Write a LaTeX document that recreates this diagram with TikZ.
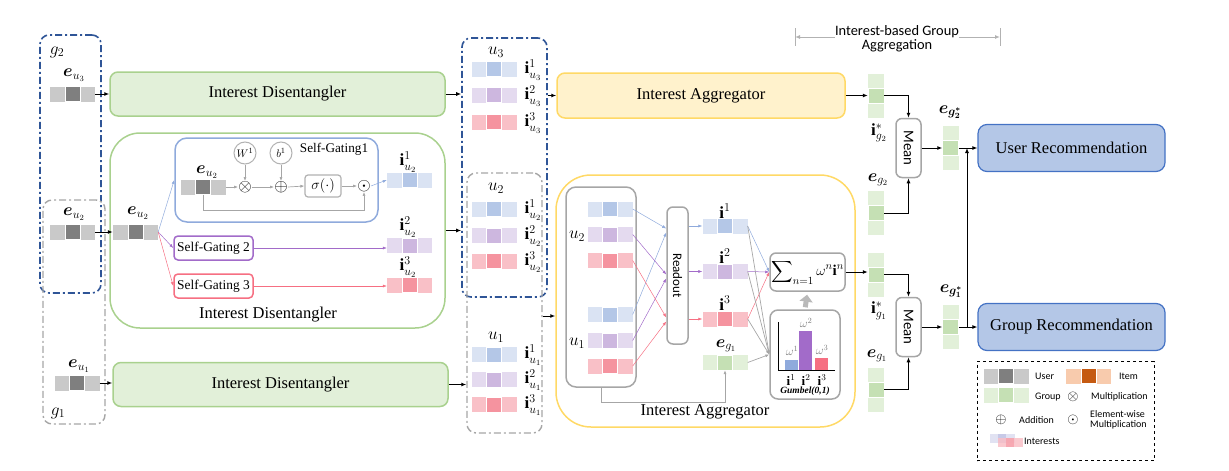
\documentclass[tikz,border=0pt]{standalone}
\usepackage{fontspec}
\setmainfont{Liberation Serif}
\newfontfamily\calib{Carlito}
\usepackage{amsmath,amssymb,bm}
\usetikzlibrary{shapes, arrows.meta, positioning}

\newcommand\fsz[1]{\fontsize{#1}{#1}\selectfont}
\definecolor{idfill}{HTML}{E2F0D9}
\definecolor{idline}{HTML}{A9D18E}
\definecolor{iafill}{HTML}{FFF2CC}
\definecolor{ialine}{HTML}{FFD966}
\definecolor{recfill}{HTML}{B4C7E7}
\definecolor{recline}{HTML}{4472C4}
\definecolor{grpblue}{HTML}{2F5597}
\definecolor{grpgray}{HTML}{A6A6A6}
\definecolor{usrlight}{HTML}{C9C9C9}
\definecolor{usrdark}{HTML}{7F7F7F}
\definecolor{bluelight}{HTML}{DAE3F3}
\definecolor{bluedark}{HTML}{B4C7E7}
\definecolor{purplight}{HTML}{E4DAEF}
\definecolor{purpdark}{HTML}{CDB7DF}
\definecolor{redlight}{HTML}{F9C0C7}
\definecolor{reddark}{HTML}{F5939F}
\definecolor{grnlight}{HTML}{E2F0D9}
\definecolor{grndark}{HTML}{C5E0B4}
\definecolor{orglight}{HTML}{F8CBAD}
\definecolor{orgdark}{HTML}{C55A11}
\definecolor{sgblue}{HTML}{8FAADC}
\definecolor{sgpurp}{HTML}{A26BC9}
\definecolor{sgred}{HTML}{F66F82}

\tikzset{
  idbox/.style={draw=idline, fill=idfill, line width=1.5pt, rounded corners=8pt, minimum width=335pt, minimum height=44pt, font=\fsz{16.5}},
  iabox/.style={draw=ialine, fill=iafill, line width=1.5pt, rounded corners=8pt, font=\fsz{16.5}},
  recbox/.style={draw=recline, fill=recfill, line width=1.2pt, rounded corners=9pt, minimum width=187pt, minimum height=47pt, font=\fsz{16.5}},
  bluegrp/.style={draw=grpblue, line width=1.6pt, dash pattern=on 7pt off 3pt on 2pt off 3pt, rounded corners=9pt},
  graygrp/.style={draw=grpgray, line width=1.4pt, dash pattern=on 7pt off 3pt on 2pt off 3pt, rounded corners=9pt},
  hcell/.style={inner sep=0pt, minimum width=45pt, minimum height=15pt},
  hmid/.style={inner sep=0pt, minimum width=15pt, minimum height=15pt, draw=white, line width=0.3pt},
  vcell/.style={inner sep=0pt, minimum width=16pt, minimum height=44pt},
  vmid/.style={inner sep=0pt, minimum width=16pt, minimum height=15pt, draw=white, line width=0.3pt},
  sgbox/.style={draw, fill=white, line width=1.5pt, rounded corners=4pt, minimum width=79pt, minimum height=24pt, inner sep=0pt, font=\fsz{13.4}},
  greybox/.style={draw=grpgray, fill=white, line width=1.5pt, rounded corners=6pt},
  opnode/.style={inner sep=0pt, font=\fsz{18}},
  ring/.style={circle, draw=gray!60, line width=1pt, minimum size=22pt, inner sep=0pt, font=\fsz{11}},
  lbl/.style={inner sep=0pt, font=\fsz{17}},
  legtxt/.style={inner sep=0pt, anchor=west, font=\calib\fsz{10}},
  blk/.style={-{Latex[length=5pt,width=4pt]}, line width=1pt},
  gline/.style={-{Latex[length=4pt,width=3pt]}, draw=gray!70, line width=0.7pt},
  cline/.style={-{Latex[length=4pt,width=3pt]}, line width=0.5pt},
}
\newcommand\rowvec[4]{%
  \node[hcell, fill=#3] (#1) at (#2) {};
  \node[hmid, fill=#4] (#1m) at (#1) {};}
\newcommand\colvec[4]{%
  \node[vcell, fill=#3] (#1) at (#2) {};
  \node[vmid, fill=#4] (#1m) at (#1) {};}

\begin{document}
\begin{tikzpicture}[x=1pt, y=-1pt]
\useasboundingbox (0,0) rectangle (1229,471);

\node[bluegrp, minimum width=61pt, minimum height=258pt] (g2) at (70.5,164) {};
\node[graygrp, minimum width=62pt, minimum height=224pt] (g1) at (74,312) {};
\node[lbl] (g2l) at (57,52) {$g_2$};
\node[lbl] (g1l) at (58,413) {$g_1$};

\rowvec{eu3}{72.5,94}{usrlight}{usrdark}
\node[lbl] (eu3l) at (74,75) {$\bm{e}_{u_3}$};
\rowvec{eu2}{72.5,232}{usrlight}{usrdark}
\node[lbl] (eu2l) at (74,214) {$\bm{e}_{u_2}$};
\rowvec{eu1}{77,383}{usrlight}{usrdark}
\node[lbl] (eu1l) at (79,366) {$\bm{e}_{u_1}$};

\node[idbox] (ID1) at (277.5,94) {Interest Disentangler};
\node[draw=idline, line width=1.5pt, rounded corners=30pt, minimum width=335pt, minimum height=195pt] (ID2) at (277.5,230.5) {};
\node[inner sep=0pt, font=\fsz{16.5}] (ID2l) at (268,315) {Interest Disentangler};
\node[idbox] (ID3) at (280.5,384.5) {Interest Disentangler};

\rowvec{eu2in}{135.5,232}{usrlight}{usrdark}
\node[lbl] (eu2inl) at (138,213) {$\bm{e}_{u_2}$};

\node[sgbox, draw=sgblue, rounded corners=12pt, minimum width=203pt, minimum height=84pt] (sg1) at (276.5,180) {};
\node[inner sep=0pt, font=\fsz{13.2}] (sg1l) at (334,149) {Self-Gating1};
\node[ring] (W1) at (245,153) {$W^1$};
\node[ring] (b1) at (281,153) {$b^1$};
\rowvec{eusg}{203,187}{usrlight}{usrdark}
\node[lbl] (eusgl) at (207,172) {$\bm{e}_{u_2}$};
\node[opnode] (otim) at (245,187) {$\otimes$};
\node[opnode] (oplu) at (281,187) {$\oplus$};
\node[draw=gray!60, line width=1.2pt, rounded corners=3pt, minimum width=36pt, minimum height=22pt, inner sep=0pt, font=\fsz{15}] (sigm) at (323,186) {$\sigma(\cdot)$};
\node[opnode] (odot) at (364,186) {$\odot$};
\draw[gline] (eusg.east) -- (otim.west);
\draw[gline] (otim.east) -- (oplu.west);
\draw[gline] (oplu.east) -- (sigm.west);
\draw[gline] (sigm.east) -- (odot.west);
\draw[gline] (W1.south) -- (otim.north);
\draw[gline] (b1.south) -- (oplu.north);
\draw[gline] (eusg.south) -- ++(0,16) -| (odot.south);

\node[sgbox, draw=sgpurp] (sg2) at (213.5,248) {Self-Gating 2};
\node[sgbox, draw=sgred] (sg3) at (213.5,286) {Self-Gating 3};

\rowvec{iu21}{409.5,180}{bluelight}{bluedark}
\node[lbl] (iu21l) at (408,162) {$\mathbf{i}^1_{u_2}$};
\rowvec{iu22}{409.5,245.5}{purplight}{purpdark}
\node[lbl] (iu22l) at (408,227) {$\mathbf{i}^2_{u_2}$};
\rowvec{iu23}{409.5,285}{redlight}{reddark}
\node[lbl] (iu23l) at (408,267) {$\mathbf{i}^3_{u_2}$};

\draw[cline, sgblue] (eu2in.east) -- (sg1.west);
\draw[cline, sgpurp] (eu2in.east) -- (sg2.west);
\draw[cline, sgred] (eu2in.east) -- (sg3.west);
\draw[cline, sgblue] (odot.east) -- (iu21.west);
\draw[cline, sgpurp] (sg2.east) -- (sg2.east -| iu22.west);
\draw[cline, sgred] (sg3.east) -- (sg3.east -| iu23.west);

\draw[blk] (eu3.east) -- (ID1.west);
\draw[blk] (eu2.east) -- (eu2in.west);
\draw[blk] (eu1.east) -- (eu1.east -| ID3.west);

\node[bluegrp, minimum width=85pt, minimum height=259pt] (u3box) at (504.5,167.5) {};
\node[graygrp, minimum width=75pt, minimum height=260pt] (u12box) at (504.5,303) {};
\node[lbl] (u3l) at (496,52) {$u_3$};
\node[lbl] (u2l) at (496,188) {$u_2$};
\node[lbl] (u1l) at (496,337) {$u_1$};
\rowvec{iu31}{494,69}{bluelight}{bluedark}
\rowvec{iu32}{494,95}{purplight}{purpdark}
\rowvec{iu33}{494,122}{redlight}{reddark}
\node[lbl] (iu31l) at (533,70) {$\mathbf{i}^1_{u_3}$};
\node[lbl] (iu32l) at (533,96) {$\mathbf{i}^2_{u_3}$};
\node[lbl] (iu33l) at (533,123) {$\mathbf{i}^3_{u_3}$};
\rowvec{ju21}{494,209}{bluelight}{bluedark}
\rowvec{ju22}{494,235.5}{purplight}{purpdark}
\rowvec{ju23}{494,261}{redlight}{reddark}
\node[lbl] (ju21l) at (533,210) {$\mathbf{i}^1_{u_2}$};
\node[lbl] (ju22l) at (533,236) {$\mathbf{i}^2_{u_2}$};
\node[lbl] (ju23l) at (533,262) {$\mathbf{i}^3_{u_2}$};
\rowvec{iu11}{494,354.5}{bluelight}{bluedark}
\rowvec{iu12}{494,379.5}{purplight}{purpdark}
\rowvec{iu13}{494,404.5}{redlight}{reddark}
\node[lbl] (iu11l) at (533,355) {$\mathbf{i}^1_{u_1}$};
\node[lbl] (iu12l) at (533,380) {$\mathbf{i}^2_{u_1}$};
\node[lbl] (iu13l) at (533,405) {$\mathbf{i}^3_{u_1}$};

\draw[blk] (ID1.east) -- (ID1.east -| u3box.west);
\draw[blk] (ID2.east) -- (ID2.east -| u3box.west);
\draw[blk] (ID3.east) -- (ID3.east -| u12box.west);

\node[iabox, minimum width=288pt, minimum height=45pt] (IA1) at (701,95.5) {Interest Aggregator};
\node[draw=ialine, line width=1.5pt, rounded corners=35pt, minimum width=299pt, minimum height=252pt] (IA2) at (705.5,301) {};
\node[inner sep=0pt, font=\fsz{16.5}] (IA2l) at (705,412) {Interest Aggregator};
\draw[blk] (u3box.east |- IA1.west) -- (IA1.west);
\coordinate (ia2in) at ([yshift=-15pt]IA2.west);
\draw[blk] (u12box.east |- ia2in) -- (ia2in);

\node[greybox, rounded corners=10pt, minimum width=70pt, minimum height=200pt] (cont) at (601,287) {};
\node[lbl] (cu2) at (577,236) {$u_2$};
\node[lbl] (cu1) at (577,343) {$u_1$};
\rowvec{c1}{610,209}{bluelight}{bluedark}
\rowvec{c2}{610,234.5}{purplight}{purpdark}
\rowvec{c3}{610,260.5}{redlight}{reddark}
\rowvec{c4}{610,314.5}{bluelight}{bluedark}
\rowvec{c5}{610,340.5}{purplight}{purpdark}
\rowvec{c6}{610,366}{redlight}{reddark}

\node[greybox, rotate=-90, minimum width=137pt, minimum height=21pt, inner sep=0pt, font=\calib\fsz{13}] (readout) at (677.5,275.5) {Readout};
\draw[cline, sgblue] (c1.east) -- ([yshift=47pt]readout.south);
\draw[cline, sgblue] (c4.east) -- ([yshift=43pt]readout.south);
\draw[cline, sgpurp] (c2.east) -- ([yshift=1pt]readout.south);
\draw[cline, sgpurp] (c5.east) -- ([yshift=-3pt]readout.south);
\draw[cline, sgred] (c3.east) -- ([yshift=-42pt]readout.south);
\draw[cline, sgred] (c6.east) -- ([yshift=-46pt]readout.south);

\rowvec{r1}{725,226}{bluelight}{bluedark}
\rowvec{r2}{725,271.5}{purplight}{purpdark}
\rowvec{r3}{725,319}{redlight}{reddark}
\rowvec{eg1in}{725,362.5}{grnlight}{grndark}
\node[lbl] (r1l) at (725,211) {$\mathbf{i}^1$};
\node[lbl] (r2l) at (725,256) {$\mathbf{i}^2$};
\node[lbl] (r3l) at (725,303) {$\mathbf{i}^3$};
\node[lbl] (eg1inl) at (726,346) {$\bm{e}_{g_1}$};
\draw[cline, sgblue] (readout.north |- r1) -- (r1.west);
\draw[cline, sgpurp] (readout.north |- r2) -- (r2.west);
\draw[cline, sgred] (readout.north |- r3) -- (r3.west);
\draw[gline] (cont.south) -- ++(0,15) -| (eg1in.south);

\node[greybox, minimum width=75pt, minimum height=38pt, inner sep=0pt, font=\fsz{15}] (sumb) at (807.5,272) {$\displaystyle\sum\nolimits_{n=1}\omega^n\mathbf{i}^n$};
\node[greybox, rounded corners=8pt, minimum width=70pt, minimum height=89pt] (gumb) at (805,354.5) {};
\draw[line width=0.8pt] (778,322) -- (778,370) -- (835,370);
\fill[sgblue] (785,360) rectangle (798,369.5);
\fill[sgpurp] (799,331) rectangle (812,369.5);
\fill[sgred] (815,358) rectangle (828,369.5);
\node[inner sep=0pt, font=\fsz{12}, text=gray] (w1) at (792,351) {$\omega^1$};
\node[inner sep=0pt, font=\fsz{12}, text=gray] (w2) at (806,323) {$\omega^2$};
\node[inner sep=0pt, font=\fsz{12}, text=gray] (w3) at (822,350) {$\omega^3$};
\node[inner sep=0pt, font=\fsz{13}] (x1) at (791,380) {$\mathbf{i}^1$};
\node[inner sep=0pt, font=\fsz{13}] (x2) at (806,380) {$\mathbf{i}^2$};
\node[inner sep=0pt, font=\fsz{13}] (x3) at (822,380) {$\mathbf{i}^3$};
\node[inner sep=0pt, font=\fsz{9.5}] (gbl) at (805,391) {\textbf{\textit{Gumbel(0,1)}}};
\draw[-{Triangle[width=13pt,length=7pt]}, line width=5pt, draw=gray!55, shorten <=2pt, shorten >=3pt] (gumb.north) -- (sumb.south);

\draw[cline, sgblue] (r1.east) -- (sumb.west);
\draw[cline, sgpurp] (r2.east) -- (sumb.west);
\draw[cline, sgred] (r3.east) -- (sumb.west);
\draw[gline] (r1.east) -- (gumb.west);
\draw[gline] (r2.east) -- (gumb.west);
\draw[gline] (r3.east) -- (gumb.west);
\draw[gline] (eg1in.east) -- (gumb.west);

\colvec{ig2s}{876,95.5}{grnlight}{grndark}
\colvec{eg2}{876,213}{grnlight}{grndark}
\colvec{ig1s}{876,274.5}{grnlight}{grndark}
\colvec{eg1}{876,389.5}{grnlight}{grndark}
\node[lbl] (ig2sl) at (879,133) {$\mathbf{i}^*_{g_2}$};
\node[lbl] (eg2l) at (878,180) {$\bm{e}_{g_2}$};
\node[lbl] (ig1sl) at (879,311) {$\mathbf{i}^*_{g_1}$};
\node[lbl] (eg1l) at (877,356) {$\bm{e}_{g_1}$};

\node[greybox, rotate=-90, minimum width=59pt, minimum height=25pt, inner sep=0pt, font=\calib\fsz{14.8}] (mean2) at (908.5,148) {Mean};
\node[greybox, rotate=-90, minimum width=59pt, minimum height=25pt, inner sep=0pt, font=\calib\fsz{14.8}] (mean1) at (908.5,327) {Mean};
\colvec{eg2s}{950.5,148}{grnlight}{grndark}
\colvec{eg1s}{950.5,327}{grnlight}{grndark}
\node[lbl] (eg2sl) at (950,112) {$\bm{e}_{\bm{g_2^*}}$};
\node[lbl] (eg1sl) at (951,291) {$\bm{e}_{\bm{g_1^*}}$};
\node[recbox] (urec) at (1071.5,148) {User Recommendation};
\node[recbox] (grec) at (1071.5,327) {Group Recommendation};

\draw[blk] (IA1.east) -- (IA1.east -| ig2s.west);
\draw[blk] (sumb.east) -- (sumb.east -| ig1s.west);
\draw[blk] (ig2s.east) -| (mean2.west);
\draw[blk] (eg2.east) -| (mean2.east);
\draw[blk] (ig1s.east) -| (mean1.west);
\draw[blk] (eg1.east) -| (mean1.east);
\draw[blk] (mean2.north) -- (eg2s.west);
\draw[blk] (mean1.north) -- (eg1s.west);
\draw[blk] (eg2s.east) -- (urec.west);
\draw[blk] (eg1s.east) -- (grec.west);
\coordinate (jn) at (967,327);
\draw[blk] (jn) -- (jn |- urec.west);

\node[inner sep=0pt, align=center, font=\calib\fsz{14.4}] (hdr) at (897,39) {Interest-based Group\\Aggregation};
\coordinate (hl) at (795,37);
\coordinate (hr) at (1000,37);
\draw[gray!60, line width=1pt] (795,28) -- (795,46);
\draw[gray!60, line width=1pt] (1000,28) -- (1000,46);
\draw[-{Latex[length=5pt,width=4pt]}, draw=gray!60, line width=1pt] (hdr.west |- hl) -- (hl);
\draw[-{Latex[length=5pt,width=4pt]}, draw=gray!60, line width=1pt] (hdr.east |- hr) -- (hr);

\node[draw, dashed, line width=0.8pt, minimum width=177pt, minimum height=99pt] (legend) at (1065.5,411) {};
\rowvec{lguser}{1006,376}{usrlight}{usrdark}
\node[legtxt] (lgusert) at (1035,376) {User};
\rowvec{lgitem}{1088.5,376}{orglight}{orgdark}
\node[legtxt] (lgitemt) at (1119,376) {Item};
\rowvec{lggrp}{1006,395}{grnlight}{grndark}
\node[legtxt] (lggrpt) at (1035,397) {Group};
\node[opnode, font=\fsz{15}] (lgotim) at (1073,397) {$\otimes$};
\node[legtxt] (lgotimt) at (1091,397) {Multiplication};
\node[opnode, font=\fsz{15}] (lgoplu) at (1001,420) {$\oplus$};
\node[legtxt] (lgoplut) at (1019,420) {Addition};
\node[opnode, font=\fsz{15}] (lgodot) at (1073,420) {$\odot$};
\node[legtxt, align=left] (lgodott) at (1090,420) {Element-wise\\Multiplication};
\fill[bluelight!60!purplight, opacity=0.9] (990,434) rectangle (1015,443);
\fill[sgblue!50!purpdark, opacity=0.5] (998,434) rectangle (1006,443);
\fill[redlight, opacity=0.85] (998,438) rectangle (1023,447);
\fill[reddark, opacity=0.6] (1006,438) rectangle (1014,447);
\node[legtxt] (lgintt) at (1024,441) {Interests};
\end{tikzpicture}
\end{document}
